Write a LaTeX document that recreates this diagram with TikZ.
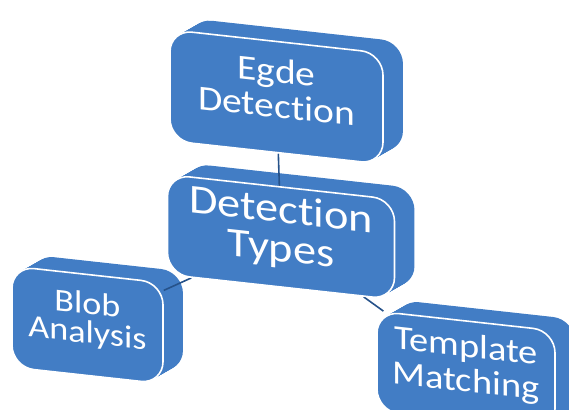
\documentclass[tikz,border=0pt]{standalone}
\usepackage{fontspec}
\setmainfont{Carlito}[FakeStretch=1.13,Ligatures=NoCommon]
\usetikzlibrary{calc}
\definecolor{boxblue}{RGB}{66,125,197}
\definecolor{linkblue}{RGB}{38,82,138}
\pgfdeclarelayer{back}
\pgfdeclarelayer{mid}
\pgfsetlayers{back,mid,main}
\tikzset{
  face/.style={rectangle,rounded corners=22pt,fill=boxblue,inner sep=0pt,yslant=-0.11,align=center,text=white},
  front/.style={face,draw=white,line width=1.6pt},
  link/.style={draw=linkblue,line width=1.6pt}
}
\begin{document}
\begin{tikzpicture}[x=1pt,y=1pt]
    \useasboundingbox (0,0) rectangle (569,409);
    \clip (0,0) rectangle (569,409);
    \node[front,minimum width=213pt,minimum height=111pt,text depth=18pt,font=\fontsize{35}{35}\selectfont](edge)at(276.5,312){Egde\\Detection};
    \node[front,minimum width=227pt,minimum height=100pt,text depth=18pt,font=\fontsize{41}{39}\selectfont](types)at(281,172){Detection\\Types};
    \node[front,minimum width=151pt,minimum height=101pt,text depth=15pt,font=\fontsize{32}{29}\selectfont](blob)at(87.5,84){Blob\\Analysis};
    \node[front,minimum width=178pt,minimum height=100pt,text depth=17pt,font=\fontsize{34}{35}\selectfont](template)at(466,38){Template\\Matching};
    % depth of the boxes
    \begin{pgfonlayer}{back}
        \foreach \n/\w/\h in {edge/213/111,types/227/100,blob/151/101,template/178/100}
            \foreach \t in {0,0.05,...,1}
                \node[face,minimum width=\w pt,minimum height=\h pt] at ($(\n.center)+(21*\t,12*\t)$){};
    \end{pgfonlayer}
    \begin{pgfonlayer}{mid}
        \draw[link](edge)--(types);
        \draw[link](types)--(blob);
        \draw[link](types)--(template);
    \end{pgfonlayer}
\end{tikzpicture}
\end{document}
